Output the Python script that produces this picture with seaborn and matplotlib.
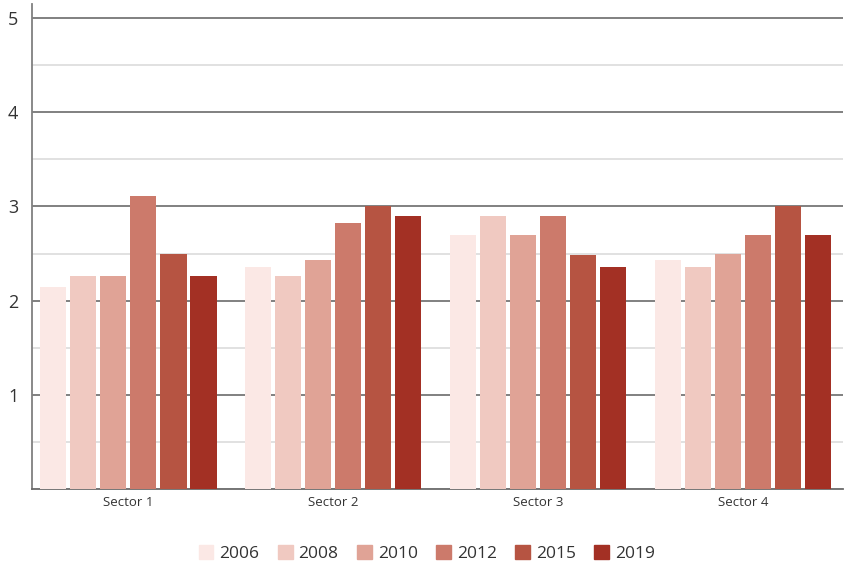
import matplotlib
matplotlib.use("Agg")
import matplotlib.pyplot as plt
import seaborn as sns
import pandas as pd
from matplotlib.ticker import MultipleLocator

sectors = ["Sector 1", "Sector 2", "Sector 3", "Sector 4"]
years = ["2006", "2008", "2010", "2012", "2015", "2019"]

v2006 = [2.14, 2.36, 2.70, 2.43]
v2008 = [2.26, 2.26, 2.90, 2.36]
v2010 = [2.26, 2.43, 2.70, 2.50]
v2012 = [3.11, 2.82, 2.90, 2.70]
v2015 = [2.50, 3.00, 2.48, 3.00]
v2019 = [2.26, 2.90, 2.36, 2.70]

colors = ["#FBE8E5", "#F0C9C1", "#E0A396", "#CC7A6B", "#B65442", "#A33024"]

series = [v2006, v2008, v2010, v2012, v2015, v2019]
rows = []
for yr, vals in zip(years, series):
    for sec, v in zip(sectors, vals):
        rows.append({"Sector": sec, "Year": yr, "Value": v})
df = pd.DataFrame(rows)

sns.set_theme(style="white")
plt.rcParams["font.family"] = ["Open Sans", "DejaVu Sans"]

fig = plt.figure(figsize=(8.45, 5.68), dpi=100)
ax = fig.add_axes([0.038, 0.139, 0.96, 0.854])

sns.barplot(data=df, x="Sector", y="Value", hue="Year", hue_order=years,
            palette=colors, width=0.88, gap=0.13, saturation=1,
            errorbar=None, ax=ax, zorder=3, linewidth=0)

ax.set_xlim(-0.47, 3.49)
ax.set_ylim(0, 5.15)
ax.yaxis.set_major_locator(MultipleLocator(1))
ax.yaxis.set_minor_locator(MultipleLocator(0.5))
ax.set_yticks([1, 2, 3, 4, 5])
ax.grid(axis="y", which="major", color="#6b6b6b", linewidth=1.2, zorder=0)
ax.grid(axis="y", which="minor", color="#dcdcdc", linewidth=1.2, zorder=0)
ax.set_axisbelow(True)

for side in ["top", "right"]:
    ax.spines[side].set_visible(False)
ax.spines["left"].set_color("#808080")
ax.spines["left"].set_linewidth(1.3)
ax.spines["bottom"].set_color("#6b6b6b")
ax.spines["bottom"].set_linewidth(1.3)

ax.tick_params(axis="y", which="both", length=0, labelsize=13, pad=10,
               labelcolor="#333333")
ax.tick_params(axis="x", length=0, labelsize=9.5, pad=5, labelcolor="#333333")
ax.set_xlabel("")
ax.set_ylabel("")

ax.legend_.remove()
handles = [plt.Rectangle((0, 0), 1, 1, color=c) for c in colors]
fig.legend(handles, years, loc="center", bbox_to_anchor=(0.505, 0.025),
           ncol=6, frameon=False, fontsize=12.5, handlelength=0.85,
           handleheight=0.85, handletextpad=0.35, columnspacing=1.05,
           labelcolor="#333333")

fig.savefig("out.png", dpi=100)
